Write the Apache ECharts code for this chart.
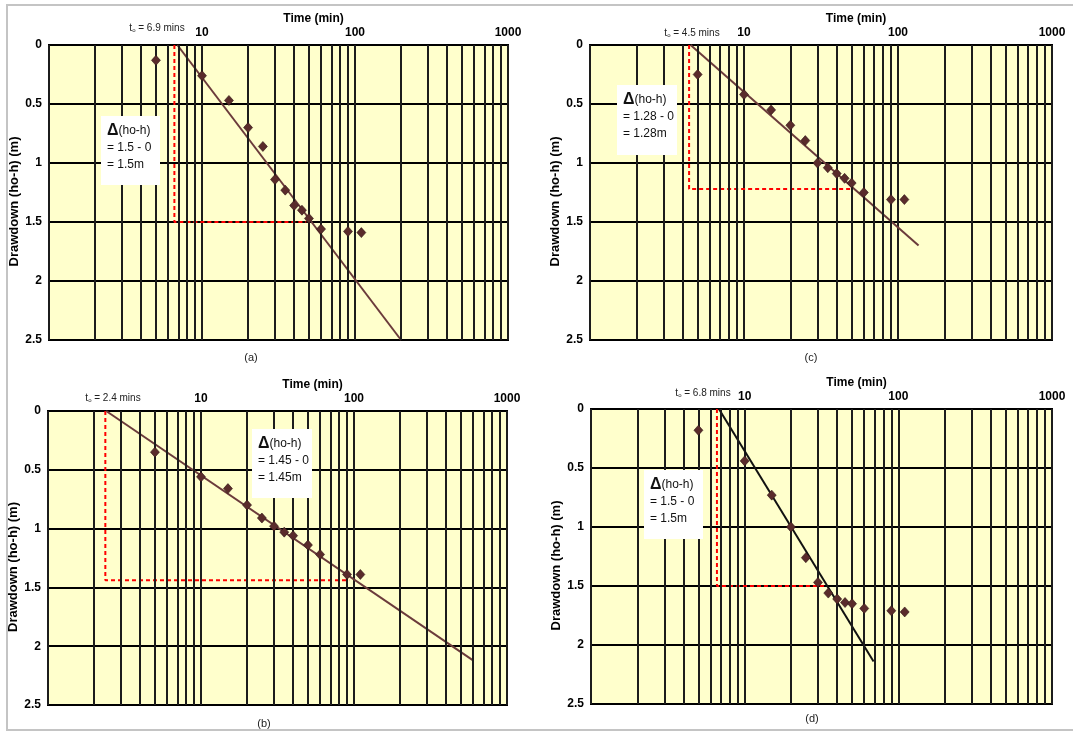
<!DOCTYPE html>
<html><head><meta charset="utf-8">
<script src="https://cdn.jsdelivr.net/npm/echarts@6/dist/echarts.min.js"></script>
<style>html,body{margin:0;padding:0;background:#fff}#c{width:1073px;height:734px}</style>
</head><body><div id="c"></div>
<script>
// ---- data ----
const timeA = [5, 10, 15, 20, 25, 30, 35, 40, 45, 50, 60, 90, 110];
const drawA = [0.13, 0.26, 0.47, 0.70, 0.86, 1.14, 1.23, 1.36, 1.40, 1.47, 1.56, 1.58, 1.59];
const timeB = [5, 10, 15, 20, 25, 30, 35, 40, 50, 60, 90, 110];
const drawB = [0.35, 0.56, 0.66, 0.80, 0.91, 0.98, 1.03, 1.06, 1.14, 1.22, 1.39, 1.39];
const timeC = [5, 10, 15, 20, 25, 30, 35, 40, 45, 50, 60, 90, 110];
const drawC = [0.25, 0.42, 0.55, 0.68, 0.81, 1.00, 1.04, 1.09, 1.13, 1.17, 1.25, 1.31, 1.31];
const timeD = [5, 10, 15, 20, 25, 30, 35, 40, 45, 50, 60, 90, 110];
const drawD = [0.18, 0.44, 0.73, 1.00, 1.26, 1.47, 1.56, 1.61, 1.64, 1.65, 1.69, 1.71, 1.72];

// fitted straight lines (start, end)
const fitA = [[6.9, 0], [200, 2.5]];
const fitB = [[2.4, 0], [600, 2.12]];
const fitC = [[4.5, 0], [136, 1.7]];
const fitD = [[6.8, 0], [69, 2.14]];

// red construction lines
const guideA = [[6.6, 0], [6.6, 1.5], [48, 1.5]];
const guideB = [[2.37, 0], [2.37, 1.44], [93, 1.44]];
const guideC = [[4.4, 0], [4.4, 1.22], [50, 1.22]];
const guideD = [[6.6, 0], [6.6, 1.5], [34, 1.5]];

const t0Labels = ['6.9', '2.4', '4.5', '6.8'];
const deltaTexts = [['1.5 - 0', '1.5m'], ['1.45 - 0', '1.45m'], ['1.28 - 0', '1.28m'], ['1.5 - 0', '1.5m']];
const captions = ['(a)', '(b)', '(c)', '(d)'];
const minorGrid = [2, 3, 4, 5, 6, 7, 8, 9, 20, 30, 40, 50, 60, 70, 80, 90, 200, 300, 400, 500, 600, 700, 800, 900];
const xTickShown = [10, 100, 1000];

// ---- layout / style ----
const FONT = '"Liberation Sans", Arial, sans-serif';
const panels = [
  { t: timeA, d: drawA, fit: fitA, guide: guideA, fitColor: '#6b3b3b',
    grid: { left: 49, top: 45, width: 459, height: 295 },
    t0: [157, 28], box: [101, 116, 59, 69], caption: [251, 358] },
  { t: timeB, d: drawB, fit: fitB, guide: guideB, fitColor: '#6b3b3b',
    grid: { left: 48, top: 411, width: 459, height: 294 },
    t0: [113, 398], box: [252, 429, 60, 69], caption: [264, 724] },
  { t: timeC, d: drawC, fit: fitC, guide: guideC, fitColor: '#6b3b3b',
    grid: { left: 590, top: 45, width: 462, height: 295 },
    t0: [692, 33], box: [617, 85, 60, 70], caption: [811, 358] },
  { t: timeD, d: drawD, fit: fitD, guide: guideD, fitColor: '#111111',
    grid: { left: 591, top: 409, width: 461, height: 295 },
    t0: [703, 393], box: [644, 470, 59, 69], caption: [812, 719] }
];

const grids = [], xAxes = [], yAxes = [], series = [], graphics = [];
const LINEC = '#1c1c1c';

panels.forEach((p, i) => {
  grids.push(Object.assign({ show: true, backgroundColor: '#ffffcc', borderColor: '#000', borderWidth: 2, containLabel: false }, p.grid));
  xAxes.push({
    gridIndex: i, type: 'log', logBase: 10, min: 1, max: 1000, position: 'top',
    name: 'Time (min)', nameLocation: 'middle', nameGap: 20.5,
    nameTextStyle: { fontFamily: FONT, fontWeight: 'bold', fontSize: 12, color: '#000', padding: [0, 0, 0, 70] },
    axisLine: { show: false }, axisTick: { show: false },
    axisLabel: { fontFamily: FONT, fontWeight: 'bold', fontSize: 12, color: '#000', margin: 6,
      formatter: v => (xTickShown.indexOf(Math.round(v)) >= 0 ? String(Math.round(v)) : '') },
    splitLine: { show: true, lineStyle: { color: LINEC, width: 2 } }
  });
  yAxes.push({
    gridIndex: i, type: 'value', inverse: true, min: 0, max: 2.5, interval: 0.5,
    name: 'Drawdown (ho-h) (m)', nameLocation: 'middle', nameGap: 25,
    nameTextStyle: { fontFamily: FONT, fontWeight: 'bold', fontSize: 13, color: '#000', padding: [0, 18, 0, 0] },
    axisLine: { show: false }, axisTick: { show: false },
    axisLabel: { fontFamily: FONT, fontWeight: 'bold', fontSize: 12, color: '#000', margin: 7 },
    splitLine: { show: true, lineStyle: { color: '#000', width: 2 } }
  });
  // minor vertical grid lines
  series.push({
    type: 'line', xAxisIndex: i, yAxisIndex: i, data: [[1, 0]], showSymbol: false, silent: true, z: 1,
    lineStyle: { width: 0 },
    markLine: { silent: true, symbol: ['none', 'none'], label: { show: false },
      lineStyle: { color: LINEC, width: 2, type: 'solid' },
      data: minorGrid.map(v => ({ xAxis: v })) }
  });
  // red construction lines
  series.push({
    type: 'line', xAxisIndex: i, yAxisIndex: i, data: p.guide, showSymbol: false, silent: true, z: 3,
    lineStyle: { color: '#ff0000', width: 2, type: [4, 3] }
  });
  // fitted line
  series.push({
    type: 'line', xAxisIndex: i, yAxisIndex: i, data: p.fit, showSymbol: false, silent: true, z: 4,
    lineStyle: { color: p.fitColor, width: 2 }
  });
  // observations
  series.push({
    type: 'scatter', xAxisIndex: i, yAxisIndex: i, z: 5,
    data: p.t.map((t, k) => [t, p.d[k]]),
    symbol: 'diamond', symbolSize: [9, 10],
    itemStyle: { color: '#5a2b2b', borderColor: '#2e1414', borderWidth: 0.6, opacity: 1 }
  });

  // t0 label
  graphics.push({
    type: 'text', x: p.t0[0], y: p.t0[1], silent: true,
    style: { text: '{a|t}{s|o}{a| = ' + t0Labels[i] + ' mins}', align: 'center', verticalAlign: 'middle',
      rich: { a: { fontFamily: FONT, fontSize: 10, fill: '#222' }, s: { fontFamily: FONT, fontSize: 6, fill: '#222', padding: [5, 0, 0, 0] } } }
  });
  // delta box
  const b = p.box;
  graphics.push({ type: 'rect', shape: { x: b[0], y: b[1], width: b[2], height: b[3] }, style: { fill: '#ffffff' }, z: 10, silent: true });
  graphics.push({
    type: 'text', x: b[0] + 6, y: b[1] + 6, z: 11, silent: true,
    style: { text: '{d|Δ}{n|(ho-h)}\n{n|= ' + deltaTexts[i][0] + '}\n{n|= ' + deltaTexts[i][1] + '}',
      align: 'left', verticalAlign: 'top',
      rich: { d: { fontFamily: FONT, fontSize: 16, fontWeight: 'bold', fill: '#111', lineHeight: 17 },
              n: { fontFamily: FONT, fontSize: 12, fill: '#111', lineHeight: 17 } } }
  });
  // caption
  graphics.push({
    type: 'text', x: p.caption[0], y: p.caption[1], silent: true,
    style: { text: captions[i], align: 'center', verticalAlign: 'middle', fontFamily: FONT, fontSize: 11, fill: '#222' }
  });
});

// outer frame
graphics.push({ type: 'rect', shape: { x: 7, y: 5, width: 1100, height: 725 }, style: { fill: 'none', stroke: '#c4c4c4', lineWidth: 2 }, silent: true, z: -1 });

const chart = echarts.init(document.getElementById('c'), null, { renderer: 'canvas' });
chart.setOption({
  backgroundColor: '#ffffff',
  animation: false,
  grid: grids, xAxis: xAxes, yAxis: yAxes, series: series,
  graphic: { elements: graphics }
});
</script></body></html>
